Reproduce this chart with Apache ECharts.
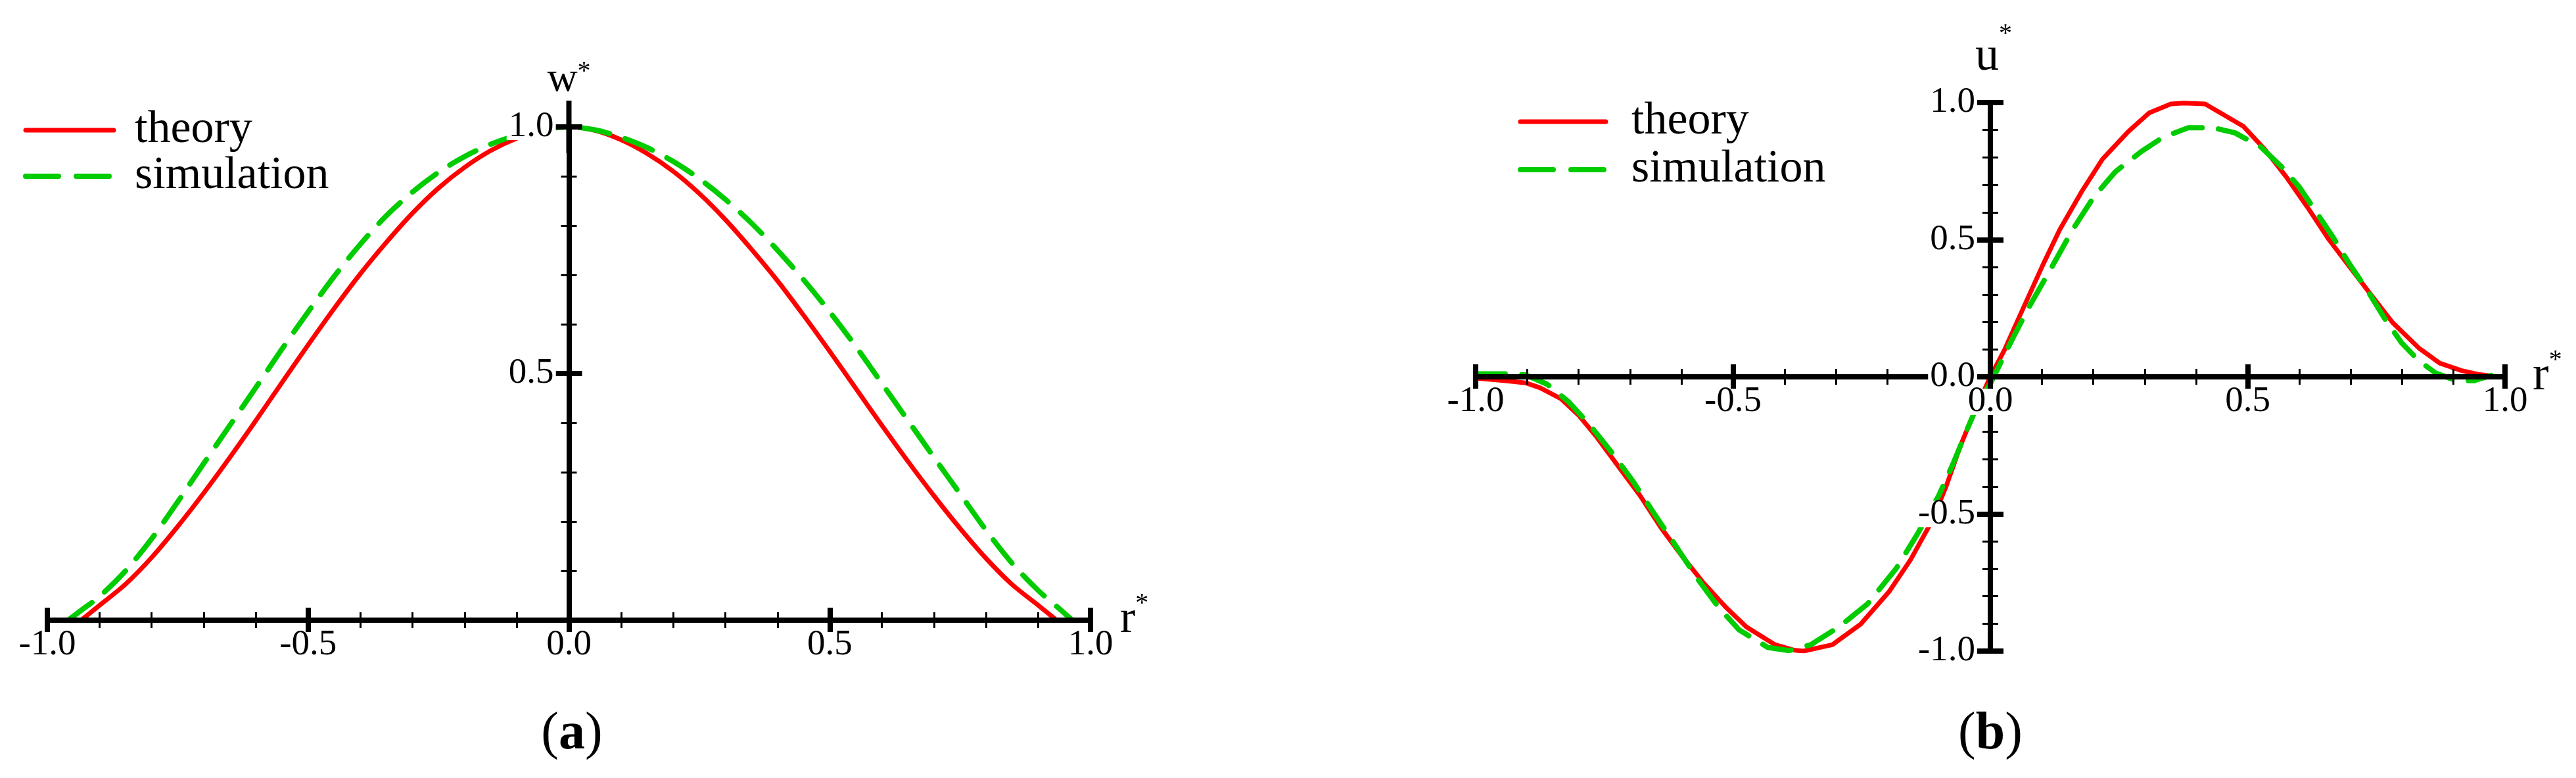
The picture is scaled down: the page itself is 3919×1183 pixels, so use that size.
<!DOCTYPE html>
<html>
<head>
<meta charset="utf-8">
<script src="https://cdn.jsdelivr.net/npm/echarts@6/dist/echarts.min.js"></script>
<style>
html,body{margin:0;padding:0;background:#fff;}
#c{width:3919px;height:1183px;}
</style>
</head>
<body>
<div id="c"></div>
<script>
// ---------- data ----------
// (a) w* versus r*
const A_THEORY_R = [-0.935,-0.9,-0.85,-0.8,-0.75,-0.7,-0.65,-0.6,-0.55,-0.5,-0.45,-0.4,-0.35,-0.3,-0.25,-0.2,-0.15,-0.1,-0.05,0,0.05,0.1,0.15,0.2,0.25,0.3,0.35,0.4,0.45,0.5,0.55,0.6,0.65,0.7,0.75,0.8,0.85,0.9,0.935];
const A_THEORY_W = [0,0.03,0.073,0.127,0.19,0.258,0.33,0.405,0.482,0.558,0.632,0.702,0.766,0.825,0.876,0.918,0.952,0.977,0.994,1.0,0.993,0.974,0.946,0.91,0.865,0.812,0.752,0.688,0.618,0.545,0.47,0.395,0.322,0.252,0.186,0.125,0.072,0.03,0];
const A_SIM_R = [-0.96,-0.935,-0.9,-0.85,-0.8,-0.75,-0.7,-0.65,-0.6,-0.55,-0.5,-0.45,-0.4,-0.35,-0.3,-0.25,-0.2,-0.15,-0.1,-0.05,0,0.05,0.1,0.15,0.2,0.25,0.3,0.35,0.4,0.45,0.5,0.55,0.6,0.65,0.7,0.75,0.8,0.85,0.9,0.935,0.965];
const A_SIM_W = [0,0.02,0.048,0.1,0.165,0.24,0.318,0.395,0.472,0.55,0.625,0.697,0.762,0.82,0.868,0.908,0.94,0.965,0.983,0.995,1.0,0.994,0.979,0.958,0.93,0.895,0.853,0.805,0.75,0.69,0.625,0.555,0.48,0.405,0.33,0.256,0.182,0.115,0.06,0.028,0];

// (b) u* versus r*
const B_THEORY_R = [-1.0,-0.945,-0.903,-0.875,-0.834,-0.8,-0.765,-0.723,-0.681,-0.64,-0.598,-0.557,-0.515,-0.474,-0.418,-0.38,-0.363,-0.307,-0.252,-0.197,-0.155,-0.114,-0.086,-0.058,-0.03,0,0.027,0.06,0.102,0.135,0.177,0.218,0.268,0.309,0.351,0.376,0.417,0.45,0.492,0.533,0.575,0.616,0.658,0.699,0.74,0.782,0.832,0.873,0.915,0.948,0.968];
const B_THEORY_U = [-0.005,-0.014,-0.022,-0.04,-0.08,-0.14,-0.219,-0.326,-0.432,-0.55,-0.656,-0.752,-0.838,-0.912,-0.977,-0.997,-1.0,-0.977,-0.902,-0.784,-0.667,-0.528,-0.4,-0.251,-0.123,0,0.096,0.234,0.408,0.537,0.674,0.794,0.894,0.963,0.995,0.998,0.995,0.959,0.913,0.83,0.729,0.619,0.5,0.399,0.298,0.197,0.106,0.05,0.023,0.009,0.005];
const B_SIM_R = [-1.0,-0.945,-0.903,-0.861,-0.82,-0.778,-0.737,-0.695,-0.654,-0.612,-0.571,-0.529,-0.488,-0.432,-0.391,-0.349,-0.294,-0.238,-0.183,-0.141,-0.1,-0.072,-0.044,-0.017,0,0.015,0.044,0.077,0.119,0.16,0.201,0.243,0.293,0.334,0.384,0.434,0.475,0.525,0.566,0.6,0.633,0.666,0.699,0.732,0.765,0.799,0.832,0.865,0.906,0.939,0.973];
const B_SIM_U = [0.011,0.011,0.007,-0.027,-0.09,-0.176,-0.272,-0.379,-0.496,-0.614,-0.731,-0.838,-0.923,-0.987,-0.998,-0.977,-0.912,-0.827,-0.699,-0.571,-0.432,-0.315,-0.187,-0.069,-0.025,0.032,0.142,0.261,0.399,0.537,0.656,0.748,0.821,0.872,0.908,0.908,0.89,0.839,0.766,0.693,0.601,0.509,0.408,0.317,0.216,0.124,0.06,0.014,-0.014,-0.014,0.005];

const SERIES_NAMES = ['theory', 'simulation'];
const CAPTIONS = ['a', 'b'];

// ---------- styling ----------
const FONT = '"Liberation Serif", "Times New Roman", serif';
const BLACK = '#000000';
const RED = '#ff0000';
const GREEN = '#00cc00';
const DASH = [45, 25];
const fmt = v => (Math.abs(v) < 1e-9 ? '0.0' : v.toFixed(1));
const pairs = (xs, ys) => xs.map((x, i) => [x, ys[i]]);

const GRID_A = { left: 72, top: 193, width: 1587, height: 750 };
const GRID_B = { left: 2245, top: 156, width: 1566, height: 834 };

function grid(r) {
  return Object.assign({ show: false, containLabel: false, outerBoundsMode: 'none' }, r);
}

// offset (px) that brings an edge-positioned axis onto the zero line of the other axis
function zeroOffset(span, min, max) {
  return -span * (0 - min) / (max - min);
}

// layer: 'out' = line + outward ticks, 'in' = inward ticks, 'label' = labels + name
function makeAxis(dim, gridIndex, layer, cfg, g, other) {
  const isLabel = layer === 'label';
  const ax = {
    type: 'value',
    gridIndex: gridIndex,
    min: cfg.min, max: cfg.max, interval: 0.5,
    z: isLabel ? 6 : 3,
    splitLine: { show: false },
    minorSplitLine: { show: false },
    axisLine: {
      show: true, onZero: !isLabel,
      lineStyle: { color: BLACK, width: layer === 'out' ? 8 : 1, opacity: layer === 'out' ? 1 : 0 }
    },
    axisTick: {
      show: !isLabel, inside: layer === 'in', length: cfg.major,
      lineStyle: { color: BLACK, width: 8 }
    },
    minorTick: {
      show: !isLabel, splitNumber: 5, length: 12,
      lineStyle: { color: BLACK, width: 3 }
    },
    axisLabel: {
      show: isLabel,
      margin: cfg.margin,
      fontFamily: FONT, fontSize: 55, lineHeight: 40, color: BLACK,
      backgroundColor: '#ffffff', padding: [0, 3],
      showMinLabel: cfg.showMinLabel !== false,
      formatter: fmt
    },
    nameMoveOverlap: false
  };
  if (isLabel) {
    // label-only axis: placed at the grid edge, shifted onto the other axis' zero
    ax.position = dim === 'x' ? 'bottom' : 'left';
    ax.offset = dim === 'x'
      ? zeroOffset(g.height, other.min, other.max)
      : zeroOffset(g.width, other.min, other.max);
  }
  if (layer === 'out' && cfg.symbol) {
    ax.axisLine.symbol = cfg.symbol;
    ax.axisLine.symbolSize = cfg.symbolSize;
  }
  if (isLabel && cfg.name) {
    ax.name = cfg.name;
    ax.nameLocation = 'end';
    ax.nameGap = cfg.nameGap;
    ax.nameTextStyle = cfg.nameTextStyle;
  }
  return ax;
}

const xA = { min: -1, max: 1, major: 19, margin: 18,
  name: '{r|r}{s|*}', nameGap: 45,
  nameTextStyle: { align: 'left', verticalAlign: 'middle', color: BLACK,
    rich: { r: { fontFamily: FONT, fontSize: 70, lineHeight: 90, color: BLACK },
            s: { fontFamily: FONT, fontSize: 40, lineHeight: 36, verticalAlign: 'top', color: BLACK } } } };
const yA = { min: 0, max: 1, major: 20, margin: 20, showMinLabel: false,
  symbol: ['none', 'rect'], symbolSize: [8, 80],
  name: '{w|w}{s|*}', nameGap: 72,
  nameTextStyle: { align: 'center', verticalAlign: 'middle', color: BLACK,
    rich: { w: { fontFamily: FONT, fontSize: 64, lineHeight: 64, color: BLACK },
            s: { fontFamily: FONT, fontSize: 40, lineHeight: 42, verticalAlign: 'top', color: BLACK } } } };
const xB = { min: -1, max: 1, major: 19, margin: 18,
  name: '{r|r}{s|*}', nameGap: 42,
  nameTextStyle: { align: 'left', verticalAlign: 'middle', color: BLACK,
    rich: { r: { fontFamily: FONT, fontSize: 74, lineHeight: 90, color: BLACK },
            s: { fontFamily: FONT, fontSize: 40, lineHeight: 22, verticalAlign: 'top', color: BLACK } } } };
const yB = { min: -1, max: 1, major: 20, margin: 20,
  name: '{u|u}{s|*}', nameGap: 69,
  nameTextStyle: { align: 'center', verticalAlign: 'middle', color: BLACK, padding: [0, 0, 0, 10],
    rich: { u: { fontFamily: FONT, fontSize: 72, lineHeight: 110, color: BLACK },
            s: { fontFamily: FONT, fontSize: 40, lineHeight: 52, verticalAlign: 'top', color: BLACK } } } };

function lineSeries(name, xi, data, color, dashed, smooth) {
  return {
    name: name, type: 'line', xAxisIndex: xi, yAxisIndex: xi,
    data: data, symbol: 'none', showSymbol: false, smooth: smooth,
    z: 2, clip: true, animation: false,
    itemStyle: { color: color },
    lineStyle: dashed
      ? { color: color, width: 8, type: DASH, cap: 'round', join: 'round' }
      : { color: color, width: 7, cap: 'round', join: 'round' }
  };
}

const legendText = pad => ({ fontFamily: FONT, fontSize: 70, color: BLACK, lineHeight: 66, padding: [0, 0, 0, pad] });
const legendData = [
  { name: SERIES_NAMES[0], itemStyle: { opacity: 0 },
    lineStyle: { color: RED, width: 7, type: 'solid', cap: 'round' } },
  { name: SERIES_NAMES[1], itemStyle: { opacity: 0 },
    lineStyle: { color: GREEN, width: 8, type: [50, 27], cap: 'round' } }
];

const option = {
  backgroundColor: '#ffffff',
  animation: false,
  grid: [grid(GRID_A), grid(GRID_A), grid(GRID_A), grid(GRID_B), grid(GRID_B), grid(GRID_B)],
  xAxis: [
    makeAxis('x', 0, 'out', xA, GRID_A, yA), makeAxis('x', 1, 'in', xA, GRID_A, yA), makeAxis('x', 2, 'label', xA, GRID_A, yA),
    makeAxis('x', 3, 'out', xB, GRID_B, yB), makeAxis('x', 4, 'in', xB, GRID_B, yB), makeAxis('x', 5, 'label', xB, GRID_B, yB)
  ],
  yAxis: [
    makeAxis('y', 0, 'out', yA, GRID_A, xA), makeAxis('y', 1, 'in', yA, GRID_A, xA), makeAxis('y', 2, 'label', yA, GRID_A, xA),
    makeAxis('y', 3, 'out', yB, GRID_B, xB), makeAxis('y', 4, 'in', yB, GRID_B, xB), makeAxis('y', 5, 'label', yB, GRID_B, xB)
  ],
  legend: [
    { orient: 'vertical', left: 35, top: 163, padding: 0, itemGap: 0, itemWidth: 134, itemHeight: 14,
      selectedMode: false, data: legendData, textStyle: legendText(27) },
    { orient: 'vertical', left: 2309, top: 150, padding: 0, itemGap: 3, itemWidth: 130, itemHeight: 14,
      selectedMode: false, data: legendData, textStyle: legendText(34) }
  ],
  series: [
    lineSeries(SERIES_NAMES[0], 0, pairs(A_THEORY_R, A_THEORY_W), RED, false, 0.3),
    lineSeries(SERIES_NAMES[1], 0, pairs(A_SIM_R, A_SIM_W), GREEN, true, 0.3),
    lineSeries(SERIES_NAMES[0], 3, pairs(B_THEORY_R, B_THEORY_U), RED, false, false),
    lineSeries(SERIES_NAMES[1], 3, pairs(B_SIM_R, B_SIM_U), GREEN, true, false)
  ],
  graphic: [
    { type: 'text', x: 870, y: 1117, z: 10,
      style: { text: '{p|(}{b|' + CAPTIONS[0] + '}{p|)}', align: 'center', verticalAlign: 'middle',
        rich: { p: { fontFamily: FONT, fontSize: 80, fill: BLACK },
                b: { fontFamily: FONT, fontSize: 80, fontWeight: 'bold', fill: BLACK } } } },
    { type: 'text', x: 3028, y: 1117, z: 10,
      style: { text: '{p|(}{b|' + CAPTIONS[1] + '}{p|)}', align: 'center', verticalAlign: 'middle',
        rich: { p: { fontFamily: FONT, fontSize: 80, fill: BLACK },
                b: { fontFamily: FONT, fontSize: 80, fontWeight: 'bold', fill: BLACK } } } }
  ]
};

const chart = echarts.init(document.getElementById('c'), null, { renderer: 'canvas', width: 3919, height: 1183 });
chart.setOption(option);
</script>
</body>
</html>
